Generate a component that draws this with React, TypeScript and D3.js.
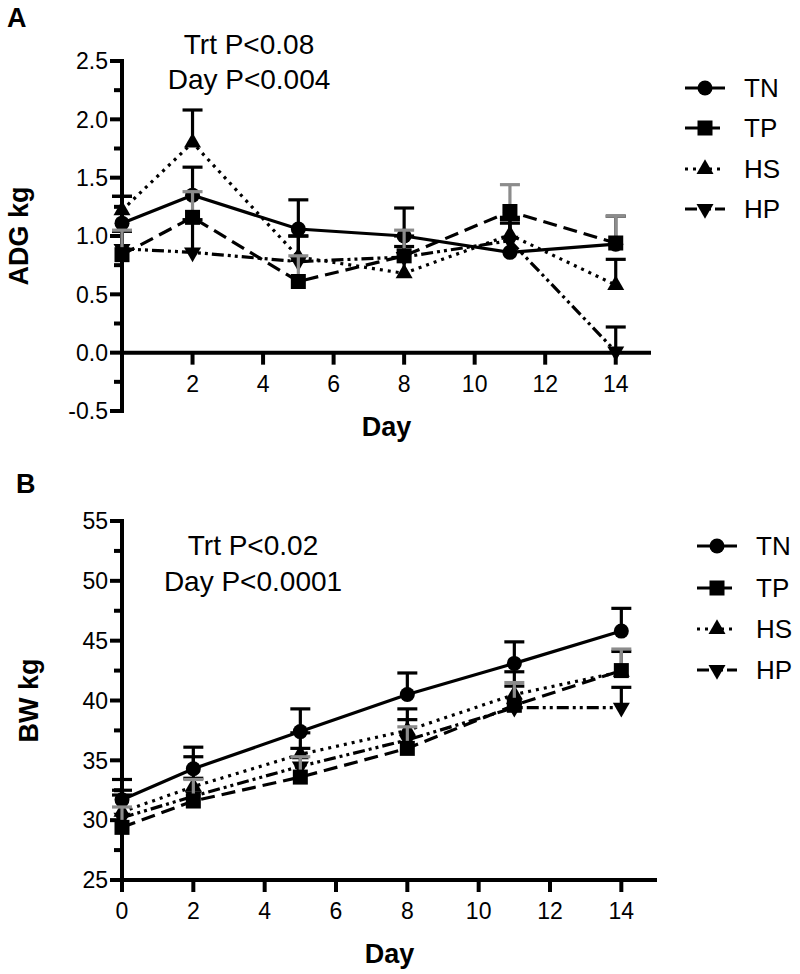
import React from "react";
import * as d3 from "d3";

const days = [0, 2, 5, 8, 11, 14];
const seriesNames = ["TN", "TP", "HS", "HP"];

// Panel A: ADG kg (mean and upper SEM)
const adgTN = [1.11, 1.35, 1.06, 1.0, 0.86, 0.93];
const adgTNerr = [0.23, 0.24, 0.25, 0.24, 0.25, 0.24];
const adgTP = [0.84, 1.16, 0.61, 0.83, 1.21, 0.94];
const adgTPerr = [0.21, 0.22, 0.22, 0.22, 0.23, 0.23];
const adgHS = [1.22, 1.8, 0.82, 0.68, 1.01, 0.58];
const adgHSerr = [0.12, 0.28, 0.18, 0.23, 0.13, 0.22];
const adgHP = [0.89, 0.86, 0.78, 0.82, 0.96, 0.01];
const adgHPerr = [0.15, 0.28, 0.22, 0.18, 0.2, 0.21];

// Panel B: BW kg
const bwTN = [31.7, 34.3, 37.4, 40.5, 43.1, 45.8];
const bwTNerr = [1.7, 1.8, 1.9, 1.8, 1.8, 1.9];
const bwTP = [29.4, 31.6, 33.6, 36.0, 39.6, 42.5];
const bwTPerr = [1.7, 1.8, 1.7, 1.8, 1.9, 1.8];
const bwHS = [30.7, 32.8, 35.5, 37.5, 40.5, 42.4];
const bwHSerr = [1.8, 2.5, 1.8, 1.8, 1.9, 1.7];
const bwHP = [30.2, 32.0, 34.5, 36.7, 39.4, 39.4];
const bwHPerr = [1.9, 1.5, 1.5, 1.7, 1.8, 1.7];

const adgMajorTicks = [-0.5, 0, 0.5, 1.0, 1.5, 2.0, 2.5];
const adgMinorTicks = [-0.25, 0.25, 0.75, 1.25, 1.75, 2.25];
const bwMajorTicks = [25, 30, 35, 40, 45, 50, 55];
const bwMinorTicks = [27.5, 32.5, 37.5, 42.5, 47.5, 52.5];
const adgDayTicks = [2, 4, 6, 8, 10, 12, 14];
const bwDayTicks = [0, 2, 4, 6, 8, 10, 12, 14];

const FONT = "'Liberation Sans', Arial, Helvetica, sans-serif";

const styles: Record<string, { dash: string | undefined; marker: string; err: string }> = {
  TN: { dash: undefined, marker: "circle", err: "#000" },
  TP: { dash: "14 7", marker: "square", err: "#8c8c8c" },
  HS: { dash: "3 5", marker: "up", err: "#000" },
  HP: { dash: "12 4 3 4 3 4", marker: "down", err: "#000" },
};

function Marker({ kind, x, y }: { kind: string; x: number; y: number }) {
  if (kind === "circle") return <circle cx={x} cy={y} r={7.5} fill="#000" />;
  if (kind === "square") return <rect x={x - 7.5} y={y - 7.5} width={15} height={15} fill="#000" />;
  const s = 17;
  const h = (s * Math.sqrt(3)) / 2;
  if (kind === "up")
    return <path d={`M${x},${y - (2 * h) / 3}L${x + s / 2},${y + h / 3}L${x - s / 2},${y + h / 3}Z`} fill="#000" />;
  return <path d={`M${x},${y + (2 * h) / 3}L${x + s / 2},${y - h / 3}L${x - s / 2},${y - h / 3}Z`} fill="#000" />;
}

type Series = { name: string; values: number[]; errs: number[] };

function Panel(props: {
  letter: string;
  letterX: number;
  letterY: number;
  series: Series[];
  yDomain: [number, number];
  yRange: [number, number];
  xEnd: number;
  xAxisValue: number;
  majorTicks: number[];
  minorTicks: number[];
  dayTicks: number[];
  fmt: (v: number) => string;
  yTitle: string;
  yTitleX: number;
  tickLabelBaseline: number;
  dayBaseline: number;
  annot: string[];
  annotX: number;
  annotY: number[];
  legendRows: number[];
  legendX: number;
}) {
  const x = d3.scaleLinear().domain([0, 15]).range([122, props.xEnd]);
  const y = d3.scaleLinear().domain(props.yDomain).range(props.yRange);
  const axY = y(props.xAxisValue);
  const line = d3
    .line<number>()
    .x((_, i) => x(days[i]))
    .y((d) => y(d));
  const order = ["TN", "HS", "HP", "TP"];
  const sorted = order.map((n) => props.series.find((s) => s.name === n)!);
  const yMid = (props.yRange[0] + props.yRange[1]) / 2;
  return (
    <g>
      <text x={props.letterX} y={props.letterY} fontFamily={FONT} fontWeight="bold" fontSize={27}>
        {props.letter}
      </text>
      {props.annot.map((t, i) => (
        <text key={i} x={props.annotX} y={props.annotY[i]} textAnchor="middle" fontFamily={FONT} fontSize={28}>
          {t}
        </text>
      ))}
      <line x1={122} x2={122} y1={y(props.yDomain[0]) + 2} y2={y(props.yDomain[1]) - 2} stroke="#000" strokeWidth={4} />
      {props.majorTicks.map((t) => (
        <g key={"M" + t}>
          <line x1={110} x2={122} y1={y(t)} y2={y(t)} stroke="#000" strokeWidth={4} />
          <text x={108} y={y(t)} dy="0.36em" textAnchor="end" fontFamily={FONT} fontSize={23}>
            {props.fmt(t)}
          </text>
        </g>
      ))}
      {props.minorTicks.map((t) => (
        <line key={"m" + t} x1={114} x2={122} y1={y(t)} y2={y(t)} stroke="#000" strokeWidth={4} />
      ))}
      <line x1={120} x2={props.xEnd} y1={axY} y2={axY} stroke="#000" strokeWidth={4} />
      {props.dayTicks.map((t) => (
        <g key={"d" + t}>
          <line x1={x(t)} x2={x(t)} y1={axY} y2={axY + 12} stroke="#000" strokeWidth={4} />
          <text x={x(t)} y={props.tickLabelBaseline} textAnchor="middle" fontFamily={FONT} fontSize={23}>
            {t}
          </text>
        </g>
      ))}
      <text x={(122 + props.xEnd) / 2} y={props.dayBaseline} textAnchor="middle" fontFamily={FONT} fontWeight="bold" fontSize={27}>
        Day
      </text>
      <text
        transform={`translate(${props.yTitleX},${yMid}) rotate(-90)`}
        textAnchor="middle"
        fontFamily={FONT}
        fontWeight="bold"
        fontSize={27}
      >
        {props.yTitle}
      </text>
      {sorted.map((s) => {
        const st = styles[s.name];
        return (
          <g key={s.name}>
            {s.values.map((v, i) => (
              <g key={i}>
                <line x1={x(days[i])} x2={x(days[i])} y1={y(v)} y2={y(v + s.errs[i])} stroke={st.err} strokeWidth={3.2} />
                <line x1={x(days[i]) - 10} x2={x(days[i]) + 10} y1={y(v + s.errs[i])} y2={y(v + s.errs[i])} stroke={st.err} strokeWidth={3.2} />
              </g>
            ))}
            <path d={line(s.values) || ""} fill="none" stroke="#000" strokeWidth={3.2} strokeDasharray={st.dash} />
            {s.values.map((v, i) => (
              <Marker key={i} kind={st.marker} x={x(days[i])} y={y(v)} />
            ))}
          </g>
        );
      })}
      {seriesNames.map((n, i) => {
        const st = styles[n];
        const ly = props.legendRows[i];
        return (
          <g key={"lg" + n}>
            <line x1={props.legendX} x2={props.legendX + 40} y1={ly} y2={ly} stroke="#000" strokeWidth={3.2} strokeDasharray={st.dash} />
            <Marker kind={st.marker} x={props.legendX + 20} y={ly} />
            <text x={props.legendX + 59} y={ly} dy="0.36em" fontFamily={FONT} fontSize={26}>
              {n}
            </text>
          </g>
        );
      })}
    </g>
  );
}

export default function App() {
  const seriesA: Series[] = [
    { name: "TN", values: adgTN, errs: adgTNerr },
    { name: "TP", values: adgTP, errs: adgTPerr },
    { name: "HS", values: adgHS, errs: adgHSerr },
    { name: "HP", values: adgHP, errs: adgHPerr },
  ];
  const seriesB: Series[] = [
    { name: "TN", values: bwTN, errs: bwTNerr },
    { name: "TP", values: bwTP, errs: bwTPerr },
    { name: "HS", values: bwHS, errs: bwHSerr },
    { name: "HP", values: bwHP, errs: bwHPerr },
  ];
  return (
    <svg width={800} height={974} style={{ position: "absolute", left: 0, top: 0, background: "#fff" }}>
      <rect width={800} height={974} fill="#fff" />
      <Panel
        letter="A"
        letterX={7}
        letterY={27}
        series={seriesA}
        yDomain={[-0.5, 2.5]}
        yRange={[411, 61]}
        xEnd={651}
        xAxisValue={0}
        majorTicks={adgMajorTicks}
        minorTicks={adgMinorTicks}
        dayTicks={adgDayTicks}
        fmt={(v) => d3.format(".1f")(v).replace("−", "-")}
        yTitle="ADG kg"
        yTitleX={28}
        tickLabelBaseline={392}
        dayBaseline={436}
        annot={["Trt P<0.08", "Day P<0.004"]}
        annotX={249}
        annotY={[54, 89]}
        legendRows={[88, 128, 169, 209]}
        legendX={685}
      />
      <Panel
        letter="B"
        letterX={16}
        letterY={493}
        series={seriesB}
        yDomain={[25, 55]}
        yRange={[880, 521]}
        xEnd={657}
        xAxisValue={25}
        majorTicks={bwMajorTicks}
        minorTicks={bwMinorTicks}
        dayTicks={bwDayTicks}
        fmt={(v) => String(v)}
        yTitle="BW kg"
        yTitleX={38}
        tickLabelBaseline={919}
        dayBaseline={963}
        annot={["Trt P<0.02", "Day P<0.0001"]}
        annotX={253}
        annotY={[555, 591]}
        legendRows={[546, 588, 629, 670]}
        legendX={697}
      />
    </svg>
  );
}
